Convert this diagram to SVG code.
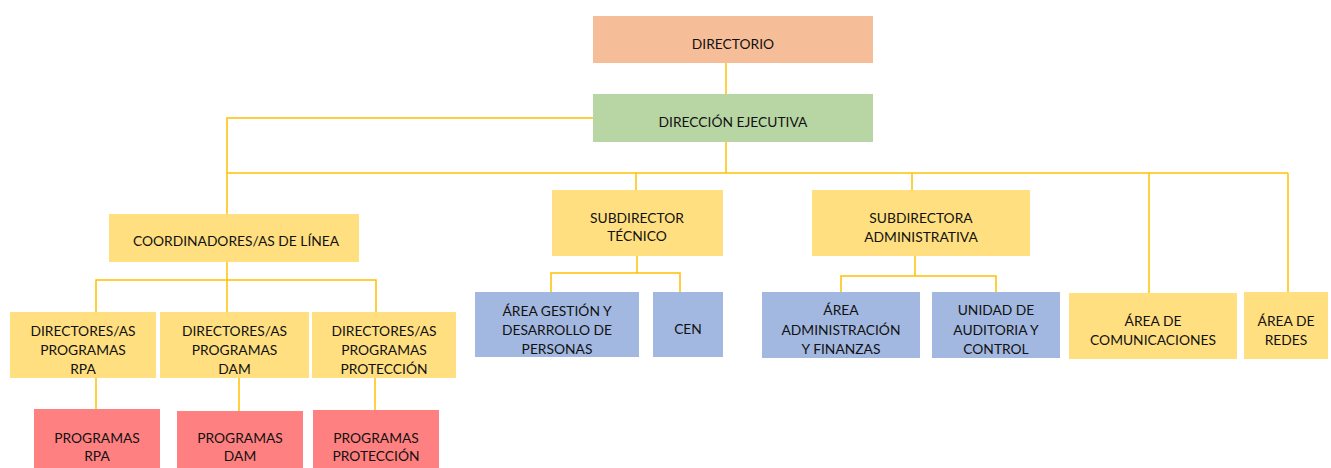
<svg xmlns="http://www.w3.org/2000/svg" width="1331" height="468" viewBox="0 0 1331 468">
<style>
  .t { font-family: Lato, "Open Sans", "Liberation Sans", sans-serif; font-size: 13.8px; fill: #111111; text-anchor: middle; }
  .c { fill: none; stroke: #FFC000; stroke-width: 1.5; }
  .or { fill: #F6BE98; }
  .gr { fill: #B8D6A4; }
  .ye { fill: #FFDF80; }
  .bl { fill: #A2B8E0; }
  .rd { fill: #FF8080; }
</style>
<rect width="1331" height="468" fill="#ffffff"/>
<g id="connectors" class="c">
  <path d="M726 63 V94"/>
  <path d="M726 142 V173"/>
  <path d="M227 173 H1288"/>
  <path d="M593 118 H227 V214"/>
  <path d="M636 173 V190"/>
  <path d="M912 173 V190"/>
  <path d="M1149 173 V293"/>
  <path d="M1288 173 V292"/>
  <path d="M227 262 V312"/>
  <path d="M96 312 V280 H376 V312"/>
  <path d="M96 378 V409"/>
  <path d="M239 378 V411"/>
  <path d="M375 378 V410"/>
  <path d="M637 256 V273"/>
  <path d="M551 292 V273 H680 V292"/>
  <path d="M915 256 V276"/>
  <path d="M841 292 V276 H996 V292"/>
</g>
<g id="directorio">
  <rect class="or" x="593" y="16" width="280" height="47"/>
  <text class="t" x="733" y="49">DIRECTORIO</text>
</g>
<g id="direccion-ejecutiva">
  <rect class="gr" x="593" y="94" width="280" height="48"/>
  <text class="t" x="733" y="127">DIRECCIÓN EJECUTIVA</text>
</g>
<g id="coordinadores">
  <rect class="ye" x="109" y="214" width="250" height="48"/>
  <text class="t" x="236" y="246">COORDINADORES/AS DE LÍNEA</text>
</g>
<g id="subdirector-tecnico">
  <rect class="ye" x="552" y="190" width="171" height="66"/>
  <text class="t" x="637" y="222.5">SUBDIRECTOR</text>
  <text class="t" x="637" y="241">TÉCNICO</text>
</g>
<g id="subdirectora-administrativa">
  <rect class="ye" x="812" y="190" width="218" height="66"/>
  <text class="t" x="921" y="222.5">SUBDIRECTORA</text>
  <text class="t" x="921" y="241.5">ADMINISTRATIVA</text>
</g>
<g id="directores-rpa">
  <rect class="ye" x="10" y="312" width="146" height="66"/>
  <text class="t" x="83" y="335.5">DIRECTORES/AS</text>
  <text class="t" x="83" y="355">PROGRAMAS</text>
  <text class="t" x="83" y="374">RPA</text>
</g>
<g id="directores-dam">
  <rect class="ye" x="160" y="312" width="149" height="66"/>
  <text class="t" x="234.5" y="335.5">DIRECTORES/AS</text>
  <text class="t" x="234.5" y="355">PROGRAMAS</text>
  <text class="t" x="234.5" y="374">DAM</text>
</g>
<g id="directores-proteccion">
  <rect class="ye" x="312" y="312" width="144" height="66"/>
  <text class="t" x="384" y="335.5">DIRECTORES/AS</text>
  <text class="t" x="384" y="355">PROGRAMAS</text>
  <text class="t" x="384" y="374">PROTECCIÓN</text>
</g>
<g id="programas-rpa">
  <rect class="rd" x="34" y="409" width="126" height="59"/>
  <text class="t" x="97" y="442.5">PROGRAMAS</text>
  <text class="t" x="97" y="461">RPA</text>
</g>
<g id="programas-dam">
  <rect class="rd" x="177" y="411" width="126" height="57"/>
  <text class="t" x="240" y="442.5">PROGRAMAS</text>
  <text class="t" x="240" y="461">DAM</text>
</g>
<g id="programas-proteccion">
  <rect class="rd" x="313" y="410" width="126" height="58"/>
  <text class="t" x="376" y="442.5">PROGRAMAS</text>
  <text class="t" x="376" y="461">PROTECCIÓN</text>
</g>
<g id="area-gestion">
  <rect class="bl" x="475" y="292" width="164" height="65"/>
  <text class="t" x="557" y="315.5">ÁREA GESTIÓN Y</text>
  <text class="t" x="557" y="334.5">DESARROLLO DE</text>
  <text class="t" x="557" y="353.5">PERSONAS</text>
</g>
<g id="cen">
  <rect class="bl" x="653" y="292" width="70" height="65"/>
  <text class="t" x="688" y="334">CEN</text>
</g>
<g id="area-administracion">
  <rect class="bl" x="762" y="292" width="158" height="66"/>
  <text class="t" x="841" y="315">ÁREA</text>
  <text class="t" x="841" y="334.5">ADMINISTRACIÓN</text>
  <text class="t" x="841" y="353.5">Y FINANZAS</text>
</g>
<g id="unidad-auditoria">
  <rect class="bl" x="932" y="292" width="128" height="66"/>
  <text class="t" x="996" y="315">UNIDAD DE</text>
  <text class="t" x="996" y="334.5">AUDITORIA Y</text>
  <text class="t" x="996" y="353.5">CONTROL</text>
</g>
<g id="area-comunicaciones">
  <rect class="ye" x="1069" y="293" width="168" height="66"/>
  <text class="t" x="1153" y="325.5">ÁREA DE</text>
  <text class="t" x="1153" y="344.5">COMUNICACIONES</text>
</g>
<g id="area-redes">
  <rect class="ye" x="1244" y="292" width="84" height="67"/>
  <text class="t" x="1286" y="325.5">ÁREA DE</text>
  <text class="t" x="1286" y="344.5">REDES</text>
</g>
</svg>
